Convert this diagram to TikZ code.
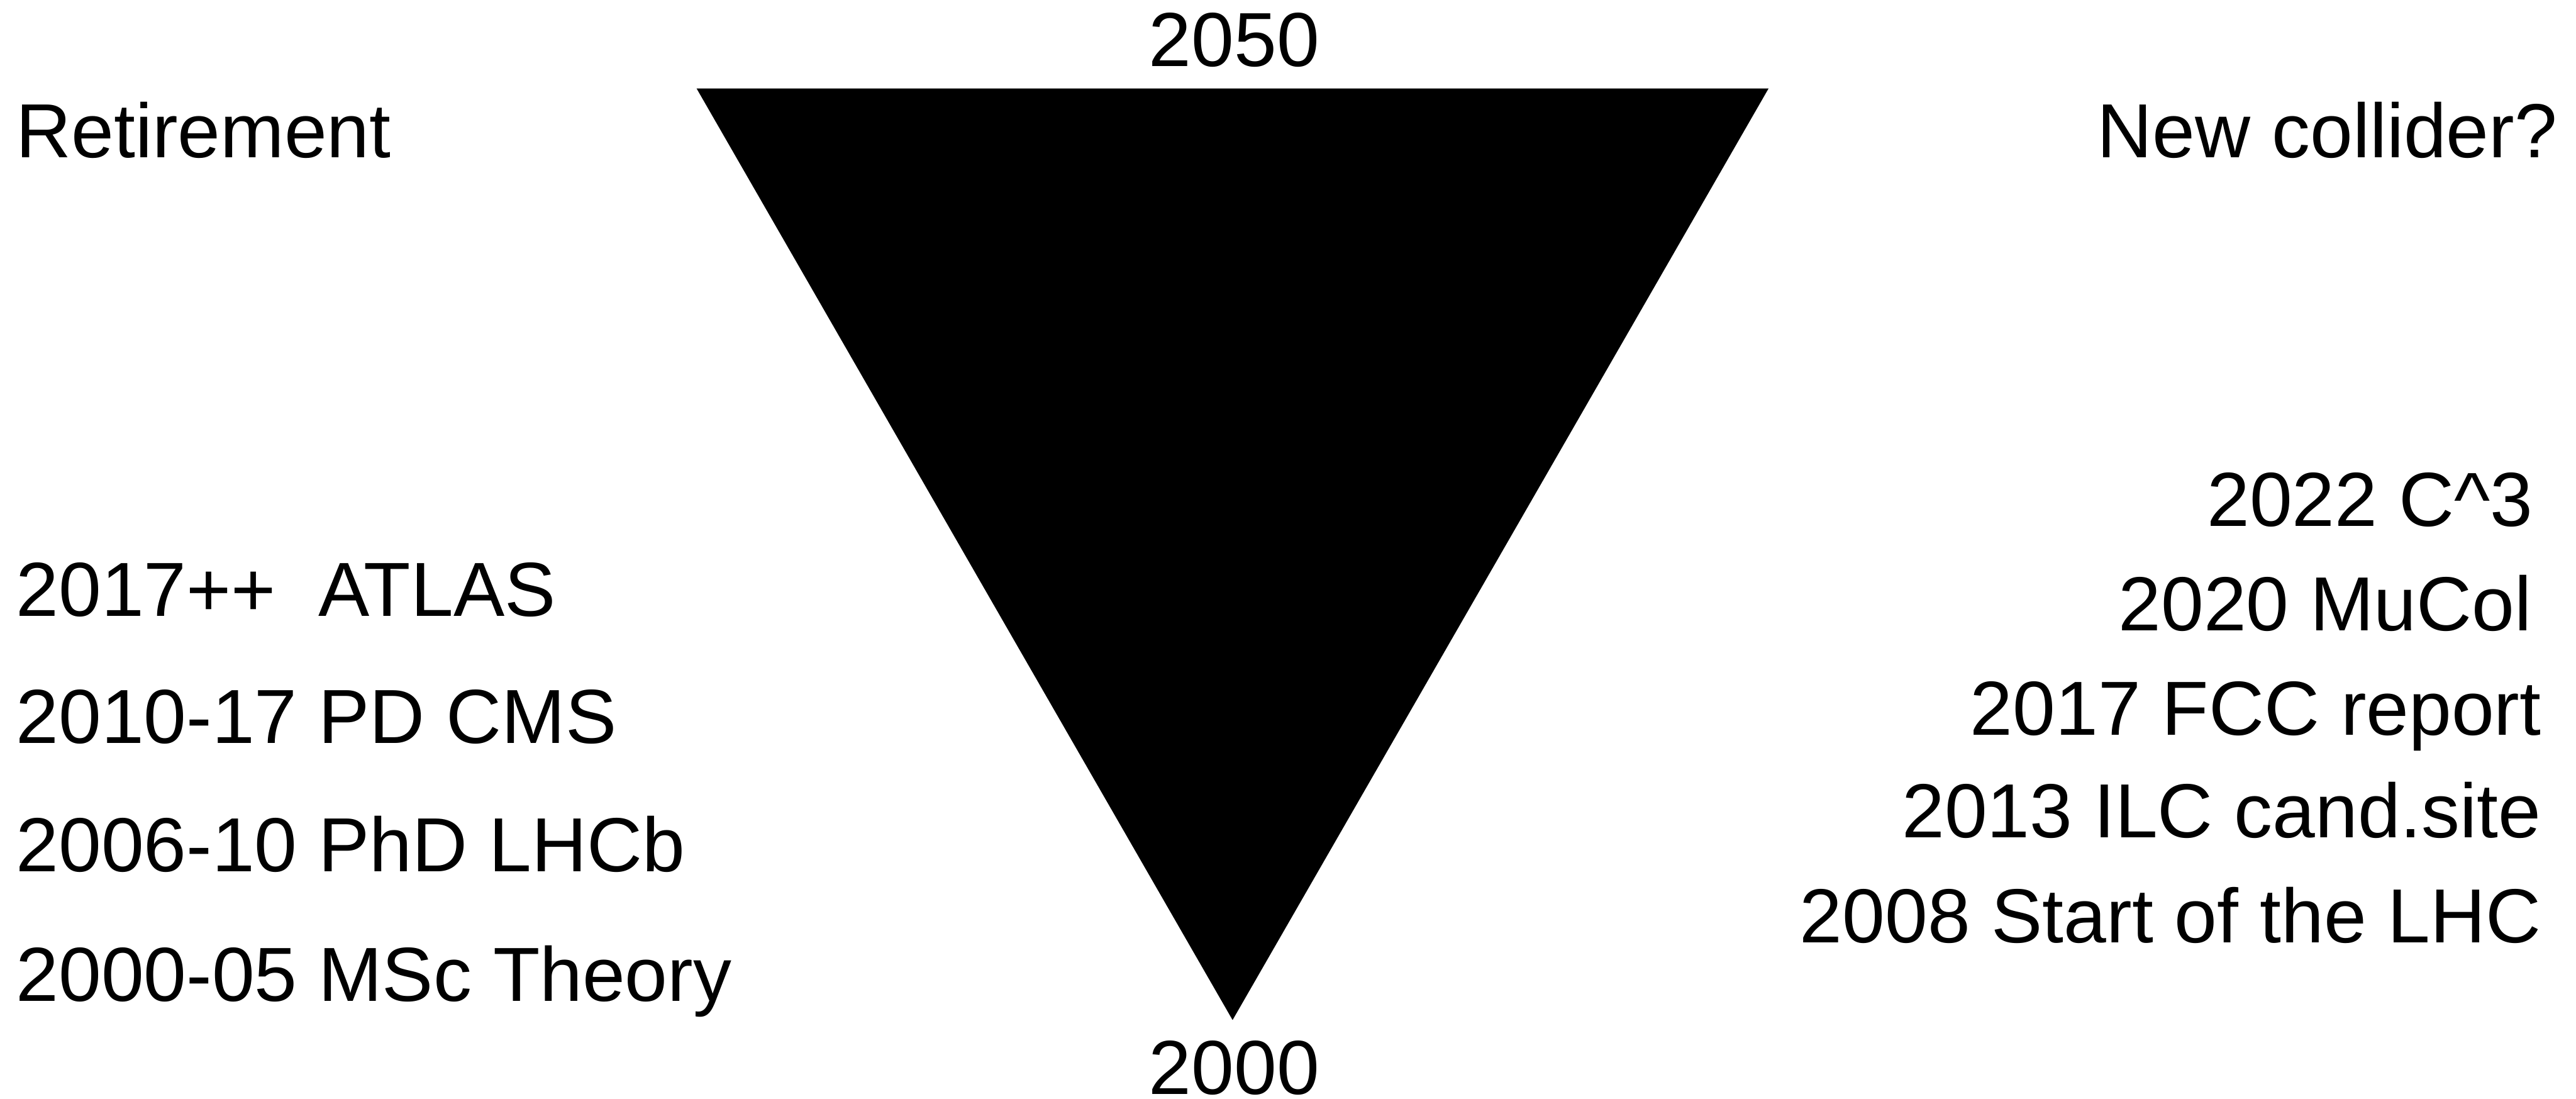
\documentclass[tikz,border=0pt]{standalone}
\usepackage{fontspec}
\setmainfont{Liberation Sans}
\usetikzlibrary{positioning}

\begin{document}
\begin{tikzpicture}[
    lbl/.style={inner sep=0pt, font=\fontsize{41.7}{50}\selectfont},
    leftlbl/.style={lbl, anchor=base west},
    rightlbl/.style={lbl, anchor=base east}
]
\useasboundingbox (0,0) rectangle (49.26,21);

% the funnel of years
\coordinate (topleft) at (13.32,19.31);
\coordinate (topright) at (33.82,19.31);
\coordinate (apex) at (23.57,1.50);
\fill[black] (topleft) -- (topright) -- (apex) -- cycle;

\node[lbl, anchor=base] (yend) at (23.60,19.73) {2050};
\node[lbl, anchor=base] (ystart) at (23.60,0.08) {2000};

% career
\node[leftlbl] (retire) at (0.30,17.99) {Retirement};
\node[leftlbl] (atlas) at (0.30,9.22) {2017++~ ATLAS};
\node[leftlbl, below=2.43cm of atlas.base west, anchor=base west] (cms) {2010-17 PD CMS};
\node[leftlbl, below=2.45cm of cms.base west, anchor=base west] (lhcb) {2006-10 PhD LHCb};
\node[leftlbl, below=2.48cm of lhcb.base west, anchor=base west] (msc) {2000-05 MSc Theory};

% colliders
\node[rightlbl] (newcoll) at (48.91,17.99) {New collider?};
\node[rightlbl] (lhc) at (48.60,2.98) {2008 Start of the LHC};
\node[rightlbl, above=2.01cm of lhc.base east, anchor=base east] (ilc) {2013 ILC cand.site};
\node[rightlbl, above=1.96cm of ilc.base east, anchor=base east] (fcc) {2017 FCC report};
\node[rightlbl, above=1.99cm of fcc.base east, anchor=base east, xshift=-0.18cm] (mucol) {2020 MuCol};
\node[rightlbl, above=2.00cm of mucol.base east, anchor=base east, xshift=0.02cm] (cool) {2022 C\textasciicircum 3};
\end{tikzpicture}
\end{document}
